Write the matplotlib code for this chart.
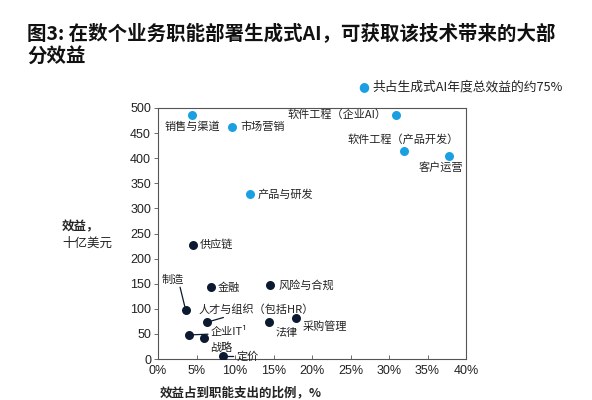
import matplotlib
matplotlib.use("Agg")
import matplotlib.pyplot as plt

plt.rcParams['font.family'] = ['Noto Sans CJK SC', 'DejaVu Sans']

# ---- data ----
blue_names = ["销售与渠道", "市场营销", "产品与研发", "软件工程（企业AI）", "软件工程（产品开发）", "客户运营"]
blue_x = [4.4, 9.6, 12.0, 30.9, 32.0, 37.8]
blue_y = [486, 463, 328, 486, 414, 405]

dark_names = ["供应链", "金融", "风险与合规", "制造", "人才与组织（包括HR）", "法律", "采购管理", "企业IT¹", "战略", "定价"]
dark_x = [4.5, 6.9, 14.6, 3.6, 6.3, 14.4, 17.9, 4.0, 6.0, 8.5]
dark_y = [228, 144, 147, 97, 73, 73, 81, 48, 41, 5]

x_ticks = [0, 5, 10, 15, 20, 25, 30, 35, 40]
y_ticks = [0, 50, 100, 150, 200, 250, 300, 350, 400, 450, 500]

title = "图3: 在数个业务职能部署生成式AI，可获取该技术带来的大部\n分效益"
legend_text = "共占生成式AI年度总效益的约75%"
ylabel_1 = "效益，"
ylabel_2 = "十亿美元"
xlabel = "效益占到职能支出的比例，%"

BLUE = "#1AA0E2"
DARK = "#0B1A30"
TXT = "#222222"

# label offsets (pixels) and alignment, plus optional leader line
label_style = {
    "销售与渠道": ((-27, -12), "left", None),
    "市场营销": ((8, 0), "left", None),
    "产品与研发": ((7, 0), "left", None),
    "软件工程（企业AI）": ((-9, 0), "right", None),
    "软件工程（产品开发）": ((-1, 12), "center", None),
    "客户运营": ((14, -12), "right", None),
    "供应链": ((7, 0), "left", None),
    "金融": ((7, -1), "left", None),
    "风险与合规": ((8, 0), "left", None),
    "制造": ((-13, 31), "center", (0.8, 0.0)),
    "人才与组织（包括HR）": ((-8, 13), "left", (0.3, 0.0)),
    "法律": ((7, -11), "left", None),
    "采购管理": ((7, -8), "left", None),
    "企业IT¹": ((22, 3), "left", (0.0, 0.3)),
    "战略": ((17, -9), "center", None),
    "定价": ((13, 0), "left", (0.0, 0.5)),
}

fig = plt.figure(figsize=(5.92, 4.0), dpi=100)
ax = fig.add_axes([158/592, 41/400, (466-158)/592, (359-108)/400])

ax.scatter(blue_x, blue_y, s=42, color=BLUE, zorder=3, linewidths=0)
ax.scatter(dark_x, dark_y, s=42, color=DARK, zorder=3, linewidths=0)

def put_labels(names, xs, ys):
    for n, x, y in zip(names, xs, ys):
        (dx, dy), ha, rel = label_style[n]
        kw = dict(xy=(x, y), xytext=(dx, dy), textcoords="offset pixels",
                  ha=ha, va="center", fontsize=8, color=TXT, zorder=4)
        if rel is not None:
            kw["arrowprops"] = dict(arrowstyle="-", color=DARK, lw=0.9,
                                    shrinkA=0, shrinkB=2, relpos=rel)
        ax.annotate(n, **kw)

put_labels(blue_names, blue_x, blue_y)
put_labels(dark_names, dark_x, dark_y)

ax.set_xlim(0, 40)
ax.set_ylim(0, 500)
ax.set_xticks(x_ticks)
ax.set_xticklabels([f"{t}%" for t in x_ticks], family=["Liberation Sans", "DejaVu Sans"], fontsize=9)
ax.set_yticks(y_ticks)
ax.set_yticklabels([str(t) for t in y_ticks], family=["Liberation Sans", "DejaVu Sans"], fontsize=9)
ax.tick_params(axis="x", direction="in", length=3, width=0.6, colors="#555555", labelcolor=TXT, pad=4)
ax.tick_params(axis="y", direction="out", length=3, width=0.6, colors="#555555", labelcolor=TXT, pad=2)
for s in ax.spines.values():
    s.set_color("#555555")
    s.set_linewidth(0.8)

fig.text(27/592, 1 - 24/400, title, ha="left", va="top", fontsize=14,
         fontweight="bold", color="#111111", linespacing=1.2)

# legend
fig.text(364/592, 1 - 87/400, "●", ha="center", va="center", fontsize=9, color=BLUE,
         family=["DejaVu Sans"])
fig.text(372/592, 1 - 87/400, legend_text, ha="left", va="center", fontsize=9.2, color=TXT)

fig.text(62/592, 1 - 227/400, ylabel_1, ha="left", va="center", fontsize=9,
         fontweight="bold", color=TXT)
fig.text(62/592, 1 - 243/400, ylabel_2, ha="left", va="center", fontsize=9, color=TXT)
fig.text(160/592, 1 - 393/400, xlabel, ha="left", va="center", fontsize=9,
         fontweight="bold", color=TXT)

fig.savefig("out.png", dpi=100)
